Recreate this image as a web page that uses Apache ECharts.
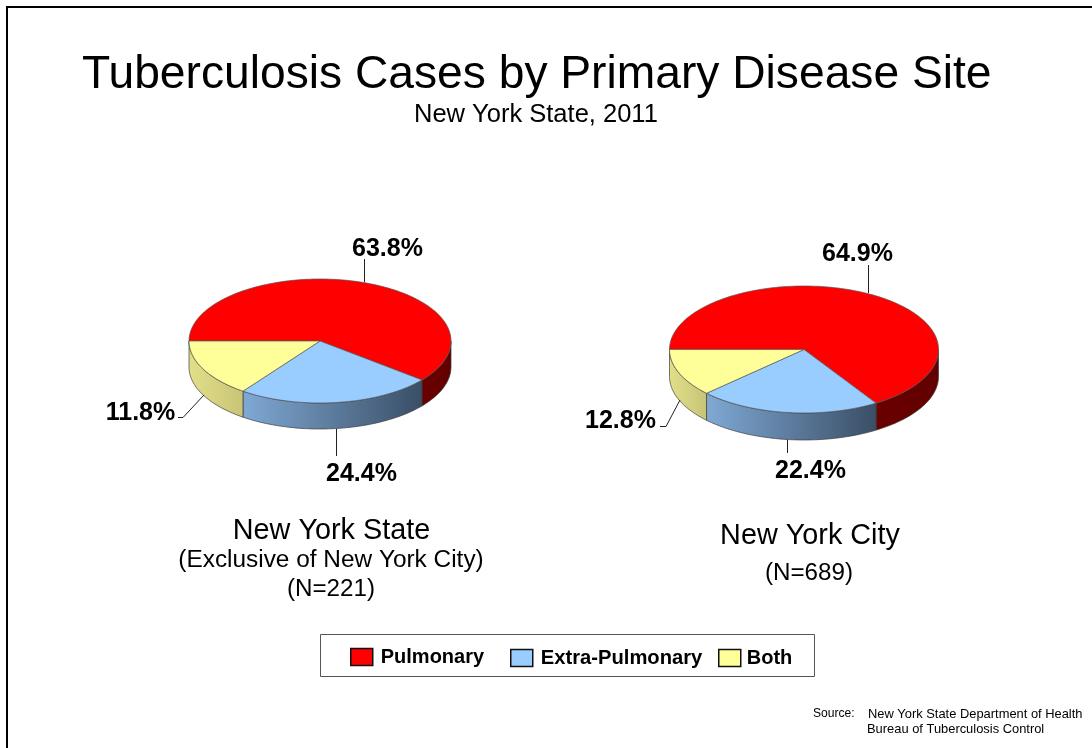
<!DOCTYPE html>
<html><head><meta charset="utf-8">
<style>html,body{margin:0;padding:0;background:#fff}#c{width:1092px;height:748px}</style>
<script src="https://cdn.jsdelivr.net/npm/echarts@6/dist/echarts.min.js"></script>
</head><body><div id="c"></div>
<script>
const categories = ['Pulmonary', 'Extra-Pulmonary', 'Both'];
// Percentages printed on the reference
const stateLabels = ['63.8%', '24.4%', '11.8%'];
const cityLabels = ['64.9%', '22.4%', '12.8%'];
const stateWedges = [60.8, 24.2, 15.0];
const cityWedges = [66.0, 21.9, 12.1];

const FONT = '"Liberation Sans", Arial, sans-serif';
const topColors = ['#FF0000', '#99CCFF', '#FFFF99'];
const wallColors = [
  ['#6A0000', '#620000'],
  ['#7FA9D4', '#3A4E66'],
  ['#E2DF8A', '#C8C476']
];
const pies = [
  {cx: 320, cy: 341, rx: 131, ry: 62, depth: 26, wedges: stateWedges},
  {cx: 804, cy: 349.5, rx: 134.5, ry: 63.5, depth: 27, wedges: cityWedges}
];

function pt(p, deg, dy) {
  const a = deg * Math.PI / 180;
  return [p.cx - p.rx * Math.cos(a), p.cy - p.ry * Math.sin(a) + (dy || 0)];
}
function arc(p, from, to, dy) {
  const n = Math.max(2, Math.ceil(Math.abs(to - from) / 1.5));
  const out = [];
  for (let i = 0; i <= n; i++) out.push(pt(p, from + (to - from) * i / n, dy));
  return out;
}
function renderSlice(catIndex) {
  return function (params, api) {
    const p = pies[api.value(0)];
    const total = p.wedges.reduce((a, b) => a + b, 0);
    let before = 0;
    for (let i = 0; i < catIndex; i++) before += p.wedges[i];
    const from = before / total * 360;
    const to = from + api.value(1) / total * 360;
    const children = [];
    const wFrom = Math.max(from, 180), wTo = Math.min(to, 360);
    if (wTo > wFrom) {
      const front = arc(p, wFrom, wTo, 0);
      const back = arc(p, wTo, wFrom, p.depth);
      children.push({
        type: 'polygon',
        shape: {points: front.concat(back)},
        style: {
          fill: new echarts.graphic.LinearGradient(0, 0, 1, 0, [
            {offset: 0, color: wallColors[catIndex][0]},
            {offset: 1, color: wallColors[catIndex][1]}
          ]),
          stroke: '#3c3c3c', lineWidth: 0.7
        }
      });
    }
    children.push({
      type: 'polygon',
      shape: {points: [[p.cx, p.cy]].concat(arc(p, from, to, 0))},
      style: {fill: topColors[catIndex], stroke: '#555', lineWidth: 0.7}
    });
    return {type: 'group', children: children};
  };
}

const series = categories.map((name, i) => ({
  type: 'custom',
  name: name,
  coordinateSystem: 'none',
  silent: true,
  clip: false,
  animation: false,
  itemStyle: {color: topColors[i]},
  encode: {},
  renderItem: renderSlice(i),
  data: [[0, stateWedges[i]], [1, cityWedges[i]]]
}));

function text(str, x, y, size, weight, align) {
  return {
    type: 'text', x: x, y: y, silent: true, z: 5,
    style: {text: str, font: (weight || 'normal') + ' ' + size + 'px ' + FONT, fill: '#000',
      align: align || 'center', verticalAlign: 'middle'}
  };
}
function leader(points) {
  return {type: 'polyline', silent: true, z: 4, shape: {points: points},
    style: {stroke: '#222', lineWidth: 1, fill: 'none'}};
}

const graphicEls = [
  {type: 'rect', silent: true, z: 0, shape: {x: 7, y: 7, width: 1300, height: 1000},
    style: {fill: 'none', stroke: '#000', lineWidth: 2}},
  {type: 'rect', silent: true, z: 0, shape: {x: 320.5, y: 634.5, width: 494, height: 42},
    style: {fill: '#fff', stroke: '#555', lineWidth: 1}},

  leader([[364.5, 259], [364.5, 282]]),
  leader([[336.5, 429], [336.5, 456]]),
  leader([[204, 395], [183, 417.5], [178, 417.5]]),
  leader([[868.5, 265], [868.5, 293]]),
  leader([[787.5, 440], [787.5, 453]]),
  leader([[680, 400], [666, 426.5], [660, 426.5]]),

  text(stateLabels[0], 387.5, 249, 25, 'bold'),
  text(stateLabels[1], 361.5, 474, 25, 'bold'),
  text(stateLabels[2], 140.5, 413, 25, 'bold'),
  text(cityLabels[0], 857.5, 254, 25, 'bold'),
  text(cityLabels[1], 810.5, 471, 25, 'bold'),
  text(cityLabels[2], 620.5, 421, 25, 'bold'),

  text('New York State', 331.5, 531, 28.8),
  text('(Exclusive of New York City)', 331, 560, 24.4),
  text('(N=221)', 331, 589, 24.2),
  text('New York City', 810, 536, 28.8),
  text('(N=689)', 809, 573, 24.2),

  text('Source:', 813, 714, 12.1, 'normal', 'left'),
  text('New York State Department of Health', 868, 714, 12.9, 'normal', 'left'),
  text('Bureau of Tuberculosis Control', 867, 729, 12.9, 'normal', 'left')
];

function legendFor(name, left, top, size, gap) {
  return {
    left: left, top: top, data: [name], padding: 0, selectedMode: false,
    itemWidth: 22, itemHeight: 17, z: 6,
    icon: 'rect',
    itemStyle: {borderColor: '#111', borderWidth: 1.5},
    textStyle: {fontFamily: FONT, fontWeight: 'bold', fontSize: size, color: '#000', padding: [0, 0, 0, gap]}
  };
}

const chart = echarts.init(document.getElementById('c'), null, {renderer: 'canvas'});
chart.setOption({
  animation: false,
  backgroundColor: '#fff',
  title: [
    {text: 'Tuberculosis Cases by Primary Disease Site', left: 82, top: 47, padding: 0,
      textStyle: {fontFamily: FONT, fontWeight: 'normal', fontSize: 46.2, color: '#000', lineHeight: 56}},
    {text: 'New York State, 2011', left: 414, top: 100, padding: 0,
      textStyle: {fontFamily: FONT, fontWeight: 'normal', fontSize: 25.5, color: '#000', lineHeight: 30}}
  ],
  legend: [
    legendFor(categories[0], 350, 647, 20, 3),
    legendFor(categories[1], 510, 648, 20.2, 3),
    legendFor(categories[2], 718, 648, 20, 1)
  ],
  tooltip: {show: false},
  graphic: {elements: graphicEls},
  series: series
});
</script></body></html>
